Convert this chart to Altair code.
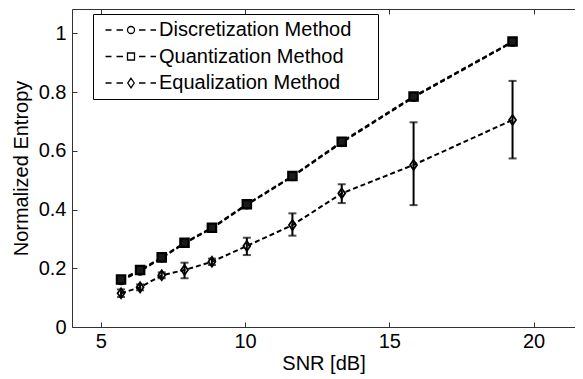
import altair as alt
import pandas as pd

# ---- data ----
snr = [5.70, 6.36, 7.11, 7.90, 8.85, 10.06, 11.64, 13.35, 15.84, 19.27]
disc = [0.158, 0.190, 0.235, 0.285, 0.336, 0.416, 0.512, 0.628, 0.782, 0.970]
quant = [0.162, 0.194, 0.237, 0.287, 0.338, 0.418, 0.514, 0.631, 0.785, 0.972]
equal = [0.115, 0.135, 0.176, 0.194, 0.222, 0.276, 0.347, 0.455, 0.552, 0.705]
eq_lo = [0.102, 0.125, 0.166, 0.166, 0.211, 0.245, 0.311, 0.422, 0.415, 0.574]
eq_hi = [0.128, 0.145, 0.186, 0.219, 0.233, 0.304, 0.387, 0.486, 0.697, 0.838]
x_ticks = [5, 10, 15, 20]
y_ticks = [0, 0.2, 0.4, 0.6, 0.8, 1.0]
names = ["Discretization Method", "Quantization Method", "Equalization Method"]

rows = []
for name, vals in zip(names, [disc, quant, equal]):
    for xv, yv in zip(snr, vals):
        rows.append({"series": name, "snr": xv, "value": yv})
df = pd.DataFrame(rows)
err = pd.DataFrame({"snr": snr, "lo": eq_lo, "hi": eq_hi})

FONT = "Liberation Sans"
FS = 20
AX = "#333333"
xs = alt.Scale(domain=[4, 21.435], nice=False, zero=False)
ys = alt.Scale(domain=[0, 1.0828], nice=False, zero=False)

base = alt.Chart(df)


def axis_layer(xaxis, yaxis):
    return base.mark_point(opacity=0).encode(
        x=alt.X("snr:Q", scale=xs, axis=xaxis),
        y=alt.Y("value:Q", scale=ys, axis=yaxis),
    )


lab = dict(labelFont=FONT, labelFontSize=FS, labelColor="black", grid=False,
           titleFont=FONT, titleFontSize=FS, titleFontWeight="normal", titleColor="black",
           domainColor=AX, domainWidth=1)
tk = dict(ticks=True, tickSize=5, tickColor=AX, tickWidth=1, domain=False,
          labels=False, title=None, grid=False, offset=-5)

ax_main = axis_layer(
    alt.Axis(orient="bottom", values=x_ticks, ticks=False, domain=True, labelPadding=4,
             title="SNR [dB]", titlePadding=2, format="d", **lab),
    alt.Axis(orient="left", values=y_ticks, ticks=False, domain=True, labelPadding=6,
             title="Normalized Entropy", titlePadding=7, format="~g", **lab),
)
ax_ticks = axis_layer(
    alt.Axis(orient="bottom", values=x_ticks, **tk),
    alt.Axis(orient="left", values=y_ticks, **tk),
)
ax_top = axis_layer(
    alt.Axis(orient="top", values=x_ticks, ticks=False, labels=False, domain=True,
             title=None, grid=False, domainColor=AX, domainWidth=1),
    None,
)
ax_top_ticks = axis_layer(alt.Axis(orient="top", values=x_ticks, **tk), None)

X = alt.X("snr:Q", scale=xs, axis=None)
Y = alt.Y("value:Q", scale=ys, axis=None)


def series_layers(name, shape, size, sw, fill=None):
    d = base.transform_filter(alt.datum.series == name)
    line = d.mark_line(color="black", strokeWidth=2, strokeDash=[5, 3]).encode(x=X, y=Y)
    kw = dict(shape=shape, size=size, filled=False, stroke="black", strokeWidth=sw, opacity=1)
    if fill is not None:
        kw["fill"] = fill
    pts = d.mark_point(**kw).encode(x=X, y=Y)
    return line, pts


l1, p1 = series_layers(names[0], "circle", 60, 1.6)
l2, p2 = series_layers(names[1], "square", 70, 2.2, "#1a1a1a")
l3, p3 = series_layers(names[2], "M0,-1.15L0.8,0L0,1.15L-0.8,0Z", 75, 1.8)

ebase = alt.Chart(err)
ebar = ebase.mark_rule(color="black", strokeWidth=2).encode(
    x=X, y=alt.Y("lo:Q", scale=ys, axis=None), y2="hi:Q")
cap_lo = ebase.mark_tick(color="black", orient="horizontal", size=8, thickness=2).encode(
    x=X, y=alt.Y("lo:Q", scale=ys, axis=None))
cap_hi = ebase.mark_tick(color="black", orient="horizontal", size=8, thickness=2).encode(
    x=X, y=alt.Y("hi:Q", scale=ys, axis=None))

# legend: custom "--o--" style symbols
dash = "M-5.1,0L-3.9,0M-2.9,0L-1.6,0M1.6,0L2.9,0M3.9,0L5.0,0"
circ = "M0.7,0A0.7,0.7 0 1 1 -0.7,0A0.7,0.7 0 1 1 0.7,0Z"
sq = "M-0.7,-0.7L0.7,-0.7L0.7,0.7L-0.7,0.7Z"
dia = "M0,-0.95L0.65,0L0,0.95L-0.65,0Z"
legend_paths = [dash + circ, dash + sq, dash + dia]

legend_layer = base.transform_filter("false").mark_point(
    filled=False, color="black", strokeWidth=1.3, opacity=1
).encode(
    shape=alt.Shape(
        "series:N",
        scale=alt.Scale(domain=names, range=legend_paths),
        legend=alt.Legend(
            title=None, orient="none", legendX=21, legendY=5,
            fillColor="white", strokeColor="black",
            padding=6, symbolSize=100, symbolOffset=22, labelOffset=18,
            symbolStrokeColor="black", symbolFillColor="white", symbolStrokeWidth=1.3,
            labelFont=FONT, labelFontSize=FS, labelColor="black", rowPadding=6.5,
            labelLimit=400,
            labelExpr="datum.label + '\u00a0\u2800'",
        ),
    )
)

chart = alt.layer(
    ax_main, ax_ticks, ax_top, ax_top_ticks,
    l1, p1, l2, p2, l3, ebar, cap_lo, cap_hi, p3, legend_layer,
).resolve_axis(x="independent", y="independent").properties(
    width=503, height=318,
    autosize=alt.AutoSizeParams(type="none"),
    padding={"left": 64, "top": 1, "right": 0, "bottom": 50},
).configure_view(stroke=None)

chart.save("out.html", embed_options={"renderer": "svg", "actions": False})
